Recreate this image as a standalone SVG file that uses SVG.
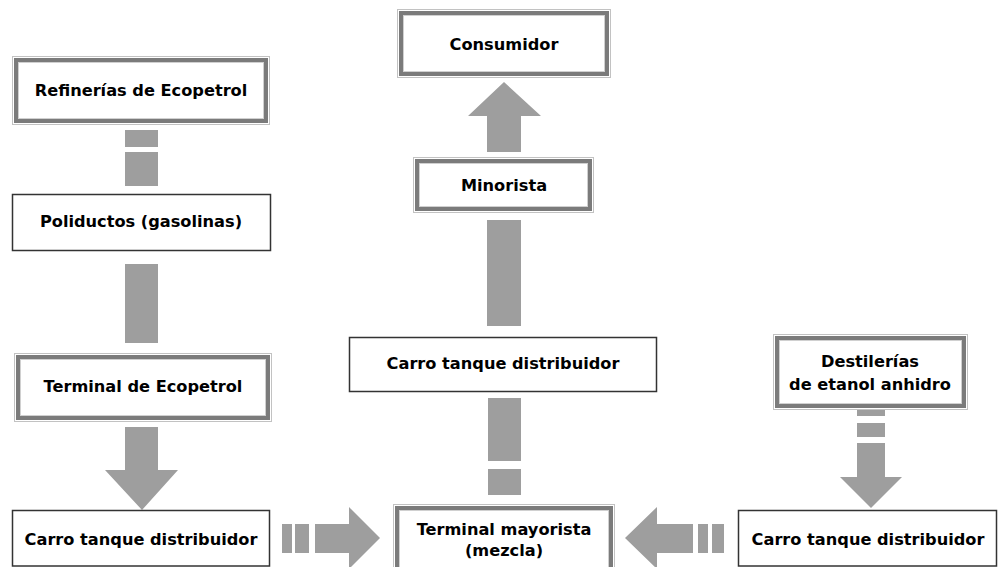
<svg xmlns="http://www.w3.org/2000/svg" width="998" height="567" viewBox="0 0 998 567">
<style>
.t{font-family:"DejaVu Sans","Verdana",sans-serif;font-weight:bold;font-size:16.2px;fill:#000;text-anchor:middle}
.s{fill:#fff;stroke:#333;stroke-width:1.5}
.o{fill:#fff;stroke:#c2c2c2;stroke-width:1}
.b{fill:none;stroke:#7b7b7b;stroke-width:4}
.i{fill:none;stroke:#d0d0d0;stroke-width:1}
.c{fill:#9e9e9e}
</style>
<rect width="998" height="567" fill="#fff"/>
<g id="connectors">
<rect class="c" x="125" y="130" width="33" height="17"/>
<rect class="c" x="125" y="152" width="33" height="34"/>
<rect class="c" x="125" y="264" width="33" height="79"/>
<polygon class="c" points="125,427 158,427 158,470 178,470 142,510 105,470 125,470"/>
<rect class="c" x="282" y="524" width="10" height="29"/>
<rect class="c" x="295" y="524" width="14" height="29"/>
<polygon class="c" points="315,524 349,524 349,507 380,538 349,569 349,553 315,553"/>
<rect class="c" x="712" y="524" width="12" height="29"/>
<rect class="c" x="698" y="524" width="10" height="29"/>
<polygon class="c" points="693,524 657,524 657,507 625,538 657,569 657,553 693,553"/>
<rect class="c" x="857" y="409" width="28" height="7"/>
<rect class="c" x="857" y="423" width="28" height="14"/>
<polygon class="c" points="857,443 885,443 885,477 902,477 871,508 840,477 857,477"/>
<rect class="c" x="488" y="469" width="33" height="26"/>
<rect class="c" x="488" y="398" width="33" height="63"/>
<rect class="c" x="487" y="220" width="34" height="106"/>
<polygon class="c" points="487,152 521,152 521,116 541,116 504,82 468,116 487,116"/>
</g>
<g id="refinerias">
<rect class="o" x="12.5" y="56.5" width="257" height="68"/>
<rect class="b" x="16" y="60" width="250" height="61"/>
<rect class="i" x="18.5" y="62.5" width="245" height="56"/>
<text class="t" x="141" y="96">Refinerías de Ecopetrol</text>
</g>
<g id="poliductos">
<rect class="s" x="12.5" y="194.5" width="258" height="56"/>
<text class="t" x="141" y="227">Poliductos (gasolinas)</text>
</g>
<g id="terminal-ecopetrol">
<rect class="o" x="14.5" y="353.5" width="257" height="68"/>
<rect class="b" x="18" y="357" width="250" height="61"/>
<rect class="i" x="20.5" y="359.5" width="245" height="56"/>
<text class="t" x="143" y="392">Terminal de Ecopetrol</text>
</g>
<g id="carro-izq">
<rect class="s" x="12.5" y="510.5" width="257" height="55.5"/>
<text class="t" x="141" y="545">Carro tanque distribuidor</text>
</g>
<g id="consumidor">
<rect class="o" x="397.5" y="9.5" width="213" height="68"/>
<rect class="b" x="401" y="13" width="206" height="61"/>
<rect class="i" x="403.5" y="15.5" width="201" height="56"/>
<text class="t" x="504" y="50">Consumidor</text>
</g>
<g id="minorista">
<rect class="o" x="413.5" y="157.5" width="180" height="55"/>
<rect class="b" x="417" y="161" width="173" height="48"/>
<rect class="i" x="419.5" y="163.5" width="168" height="43"/>
<text class="t" x="504" y="191">Minorista</text>
</g>
<g id="carro-centro">
<rect class="s" x="349.5" y="337.5" width="307" height="54"/>
<text class="t" x="503" y="369">Carro tanque distribuidor</text>
</g>
<g id="terminal-mayorista">
<rect class="o" x="393.5" y="504.5" width="221" height="70"/>
<rect class="b" x="397" y="508" width="214" height="63"/>
<rect class="i" x="399.5" y="510.5" width="209" height="58"/>
<text class="t" x="504" y="535">Terminal mayorista</text>
<text class="t" x="504" y="556">(mezcla)</text>
</g>
<g id="destilerias">
<rect class="o" x="773.5" y="334.5" width="194" height="75"/>
<rect class="b" x="777" y="338" width="187" height="68"/>
<rect class="i" x="779.5" y="340.5" width="182" height="63"/>
<text class="t" x="870" y="367">Destilerías</text>
<text class="t" x="870" y="390">de etanol anhidro</text>
</g>
<g id="carro-der">
<rect class="s" x="738.5" y="510.5" width="258" height="55.5"/>
<text class="t" x="868" y="545">Carro tanque distribuidor</text>
</g>
</svg>
